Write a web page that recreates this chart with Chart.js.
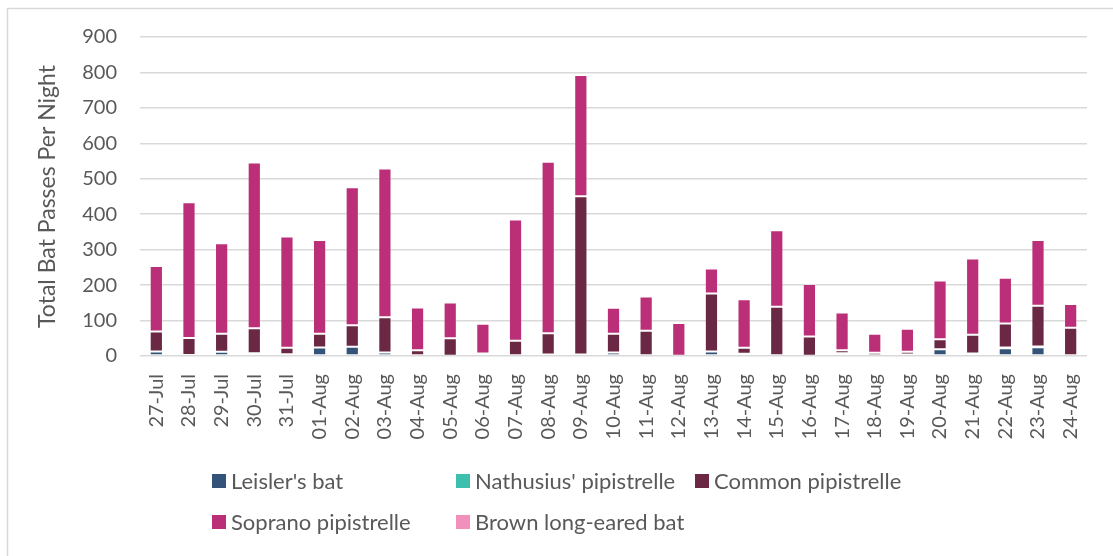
<!DOCTYPE html>
<html>
<head>
<meta charset="utf-8">
<title>Total Bat Passes Per Night</title>
<script src="https://cdn.jsdelivr.net/npm/chart.js@4/dist/chart.umd.min.js"></script>
<style>
  html, body { margin: 0; padding: 0; background: #ffffff; }
  #wrap { position: relative; width: 1113px; height: 556px; }
  canvas { display: block; }
</style>
</head>
<body>
<div id="wrap"><canvas id="chart" width="1113" height="556"></canvas></div>
<script>
// Survey nights
const nights = [
  '27-Jul', '28-Jul', '29-Jul', '30-Jul', '31-Jul',
  '01-Aug', '02-Aug', '03-Aug', '04-Aug', '05-Aug', '06-Aug', '07-Aug', '08-Aug',
  '09-Aug', '10-Aug', '11-Aug', '12-Aug', '13-Aug', '14-Aug', '15-Aug', '16-Aug',
  '17-Aug', '18-Aug', '19-Aug', '20-Aug', '21-Aug', '22-Aug', '23-Aug', '24-Aug'
];

// Bat passes per night, by species
const leislersBat = [13, 3, 12, 8, 5, 24, 26, 10, 2, 1, 0, 0, 4, 4, 10, 0, 0, 13, 6, 2, 1, 8, 2, 4, 19, 7, 22, 25, 0];
const nathusiusPipistrelle = [0, 0, 0, 0, 0, 0, 0, 0, 0, 0, 0, 0, 0, 0, 0, 0, 0, 0, 0, 0, 0, 0, 0, 0, 0, 0, 2, 2, 0];
const commonPipistrelle = [56, 48, 51, 70, 18, 39, 61, 99, 14, 49, 7, 43, 60, 447, 53, 71, 1, 163, 17, 137, 54, 8, 7, 8, 28, 53, 68, 115, 80];
const sopranoPipistrelle = [185, 383, 255, 468, 314, 264, 389, 420, 121, 101, 84, 342, 484, 342, 73, 97, 92, 71, 137, 216, 148, 107, 54, 65, 166, 215, 129, 185, 67];
const brownLongEaredBat = [0, 0, 0, 0, 0, 0, 0, 0, 0, 0, 0, 0, 0, 0, 0, 0, 0, 0, 0, 0, 0, 0, 0, 0, 0, 0, 0, 0, 0];

// Value axis ticks
const yTicks = [0, 100, 200, 300, 400, 500, 600, 700, 800, 900];

const FONT = 'Lato, "Open Sans", "Liberation Sans", sans-serif';
const TEXT = '#595959';

// Legend laid out as a two-row grid below the axis labels
const legendGrid = { cols: [212, 456, 695], rows: [481, 522], box: 14, gap: 5, size: 22 };
const legendSlots = [[0, 0], [1, 0], [2, 0], [0, 1], [1, 1]];

const gridLegend = {
  id: 'gridLegend',
  afterDraw(chart) {
    const ctx = chart.ctx;
    ctx.save();
    ctx.font = legendGrid.size + 'px ' + FONT;
    ctx.textBaseline = 'middle';
    ctx.textAlign = 'left';
    chart.data.datasets.forEach((ds, i) => {
      const [c, r] = legendSlots[i];
      const x = legendGrid.cols[c];
      const y = legendGrid.rows[r];
      ctx.fillStyle = ds.backgroundColor;
      ctx.fillRect(x, y - legendGrid.box / 2, legendGrid.box, legendGrid.box);
      ctx.fillStyle = TEXT;
      ctx.fillText(ds.label, x + legendGrid.box + legendGrid.gap, y + 1);
    });
    ctx.restore();
  }
};

// Thin frame along the top and left of the chart
const frame = {
  id: 'frame',
  beforeDraw(chart) {
    const ctx = chart.ctx;
    ctx.save();
    ctx.strokeStyle = '#d9d9d9';
    ctx.lineWidth = 1.5;
    ctx.beginPath();
    ctx.moveTo(7.5, chart.height);
    ctx.lineTo(7.5, 8.5);
    ctx.lineTo(chart.width, 8.5);
    ctx.stroke();
    ctx.restore();
  }
};

function series(label, data, color) {
  return {
    label: label,
    data: data,
    backgroundColor: color,
    borderColor: 'rgba(255,255,255,0.18)',
    borderWidth: 1,
    borderSkipped: false,
    barPercentage: 0.405,
    categoryPercentage: 1.0
  };
}

new Chart(document.getElementById('chart'), {
  type: 'bar',
  data: {
    labels: nights,
    datasets: [
      series("Leisler's bat", leislersBat, '#335478'),
      series("Nathusius' pipistrelle", nathusiusPipistrelle, '#3dbfae'),
      series('Common pipistrelle', commonPipistrelle, '#6b2844'),
      series('Soprano pipistrelle', sopranoPipistrelle, '#bb2f78'),
      series('Brown long-eared bat', brownLongEaredBat, '#f190bb')
    ]
  },
  options: {
    responsive: false,
    devicePixelRatio: 1,
    animation: false,
    layout: { padding: { top: 37, right: 20, left: 0, bottom: 0 } },
    plugins: {
      legend: { display: false },
      tooltip: { enabled: false }
    },
    scales: {
      x: {
        stacked: true,
        grid: { display: false, drawTicks: false },
        border: { display: false },
        ticks: {
          autoSkip: false,
          minRotation: 90,
          maxRotation: 90,
          padding: 18,
          color: TEXT,
          font: { family: FONT, size: 20 }
        },
        afterFit(scale) { scale.height = 200; }
      },
      y: {
        stacked: true,
        min: yTicks[0],
        max: yTicks[yTicks.length - 1],
        afterBuildTicks(scale) { scale.ticks = yTicks.map(v => ({ value: v })); },
        grid: { color: '#d9d9d9', lineWidth: 1.5, drawTicks: false },
        border: { display: false },
        ticks: {
          padding: 23,
          color: TEXT,
          font: { family: FONT, size: 20 }
        },
        title: {
          display: true,
          text: 'Total Bat Passes Per Night',
          color: TEXT,
          font: { family: FONT, size: 23 },
          padding: { top: 34, bottom: 0 }
        },
        afterFit(scale) { scale.width = 140; }
      }
    }
  },
  plugins: [frame, gridLegend]
});
</script>
</body>
</html>
